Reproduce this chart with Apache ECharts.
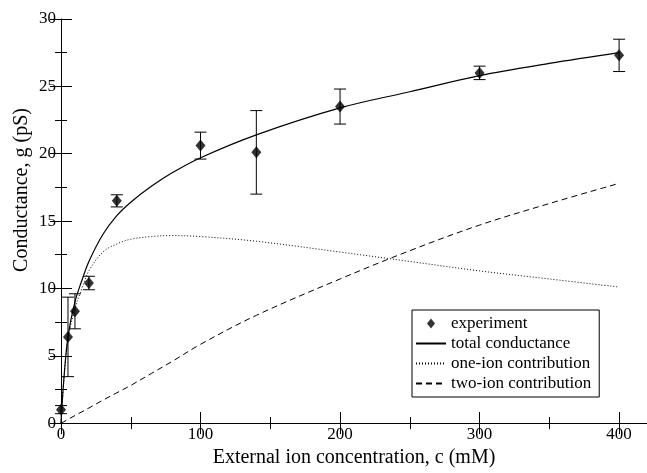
<!DOCTYPE html>
<html>
<head>
<meta charset="utf-8">
<script src="https://cdn.jsdelivr.net/npm/echarts@6/dist/echarts.min.js"></script>
<style>
  html, body { margin: 0; padding: 0; background: #fff; }
  #chart { width: 647px; height: 473px; }
</style>
</head>
<body>
<div id="chart"></div>
<script>
// experiment points, with symmetric error bars
const expX = [0, 5, 10, 20, 40, 100, 140, 200, 300, 400];
const expY = [1.0, 6.4, 8.3, 10.4, 16.5, 20.6, 20.1, 23.5, 26.0, 27.3];
const expErr = [0.3, 2.95, 1.3, 0.5, 0.45, 1.0, 3.1, 1.3, 0.5, 1.2];

// model curves
const curveX = [0, 2, 5, 10, 15, 20, 30, 40, 50, 65, 80, 100, 140, 200, 250, 300, 350, 400];
const totalG = [0, 3.2, 6.4, 9.0, 10.6, 12.0, 14.0, 15.4, 16.4, 17.6, 18.6, 19.7, 21.4, 23.4, 24.6, 25.8, 26.7, 27.5];
const oneIon = [0, 3.1, 6.2, 8.5, 10.0, 11.3, 12.7, 13.3, 13.65, 13.85, 13.92, 13.85, 13.5, 12.7, 12.0, 11.3, 10.7, 10.1];
const twoIon = [0, 0.1, 0.28, 0.56, 0.84, 1.12, 1.7, 2.25, 2.8, 3.7, 4.6, 5.85, 8.0, 10.7, 12.8, 14.7, 16.3, 17.8];

const font = "Liberation Serif";
const pairs = (ys) => curveX.map((x, i) => [x, ys[i]]);

const chart = echarts.init(document.getElementById("chart"));

const xBase = {
	type: "value", min: 0, max: 420, interval: 100,
	axisLine: { lineStyle: { color: "#000", width: 1 } },
	axisTick: { inside: true, length: 11, lineStyle: { color: "#000" } },
	minorTick: { show: true, splitNumber: 2, length: 6, lineStyle: { color: "#000" } },
	splitLine: { show: false },
};
const yBase = {
	type: "value", min: 0, max: 30, interval: 5,
	axisLine: { show: true, lineStyle: { color: "#000", width: 1 } },
	axisTick: { inside: true, length: 11, lineStyle: { color: "#000" } },
	minorTick: { show: true, splitNumber: 2, length: 6, lineStyle: { color: "#000" } },
	splitLine: { show: false },
};

// legend entries for lines: hide the symbol drawn on the line
const lineItem = (name) => ({ name: name, itemStyle: { opacity: 0 } });

const option = {
	backgroundColor: "#fff",
	animation: false,
	grid: { left: 61, top: 19, width: 588, height: 413 },
	xAxis: [
		Object.assign({}, xBase, {
			position: "bottom",
			name: "External ion concentration, c (mM)",
			nameLocation: "middle",
			nameGap: 19,
			nameTextStyle: { fontFamily: font, fontSize: 20, color: "#000" },
			axisLabel: { fontFamily: font, fontSize: 17, color: "#000", margin: 3, showMaxLabel: false },
		}),
		Object.assign({}, xBase, { position: "top", axisLabel: { show: false } }),
	],
	yAxis: [
		Object.assign({}, yBase, {
			position: "left",
			axisLine: { show: true, lineStyle: { color: "#999", width: 1 } },
			axisLabel: { fontFamily: font, fontSize: 17, color: "#000", margin: 5 },
		}),
		Object.assign({}, yBase, { position: "right", axisLabel: { show: false } }),
	],
	graphic: [{
		type: "text",
		x: 22, y: 190,
		rotation: Math.PI / 2,
		style: {
			text: "Conductance, g (pS)",
			font: "20px " + font,
			fill: "#000",
			textAlign: "center",
			textVerticalAlign: "middle",
		},
	}],
	legend: {
		orient: "vertical",
		left: 412, top: 310,
		padding: [5, 8, 5, 3],
		itemGap: 3,
		itemWidth: 30, itemHeight: 10,
		borderColor: "#000", borderWidth: 1,
		textStyle: { fontFamily: font, fontSize: 17, color: "#000" },
		data: [
			{ name: "experiment", icon: "path://M0,-5L4,0L0,5L-4,0Z" },
			lineItem("total conductance"),
			lineItem("one-ion contribution"),
			lineItem("two-ion contribution"),
		],
	},
	series: [
		{
			type: "custom",
			renderItem: (params, api) => {
				const x = api.value(0);
				const top = api.coord([x, api.value(1) + api.value(2)]);
				const bot = api.coord([x, api.value(1) - api.value(2)]);
				const w = 6;
				const st = { stroke: "#000", lineWidth: 1 };
				return {
					type: "group",
					children: [
						{ type: "line", shape: { x1: top[0], y1: top[1], x2: bot[0], y2: bot[1] }, style: st },
						{ type: "line", shape: { x1: top[0] - w, y1: top[1], x2: top[0] + w, y2: top[1] }, style: st },
						{ type: "line", shape: { x1: bot[0] - w, y1: bot[1], x2: bot[0] + w, y2: bot[1] }, style: st },
					],
				};
			},
			data: expX.map((x, i) => [x, expY[i], expErr[i]]),
			z: 3,
		},
		{
			name: "total conductance",
			type: "line",
			data: pairs(totalG),
			smooth: 0.35,
			showSymbol: false,
			lineStyle: { color: "#000", width: 1.2 },
			itemStyle: { color: "#000" },
		},
		{
			name: "one-ion contribution",
			type: "line",
			data: pairs(oneIon),
			smooth: 0.35,
			showSymbol: false,
			lineStyle: { color: "#000", width: 1, type: [1, 2] },
			itemStyle: { color: "#000" },
		},
		{
			name: "two-ion contribution",
			type: "line",
			data: pairs(twoIon),
			smooth: 0.35,
			showSymbol: false,
			lineStyle: { color: "#000", width: 1, type: [6, 4] },
			itemStyle: { color: "#000" },
		},
		{
			name: "experiment",
			type: "scatter",
			data: expX.map((x, i) => [x, expY[i]]),
			symbol: "diamond",
			symbolSize: [10, 12],
			itemStyle: { color: "#000" },
			z: 5,
		},
	],
};

chart.setOption(option);
</script>
</body>
</html>
